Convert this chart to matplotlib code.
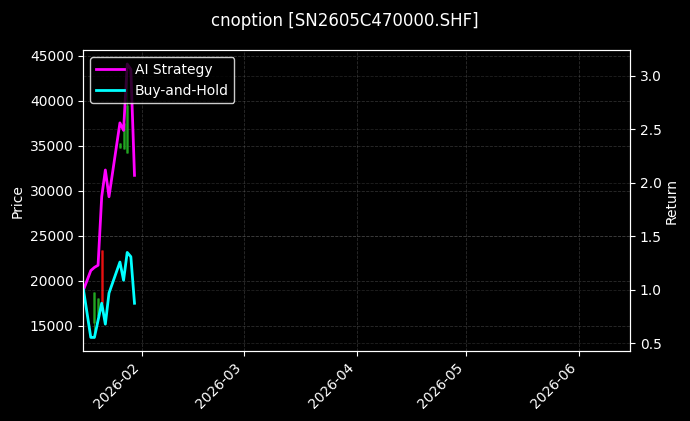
import matplotlib
matplotlib.use("Agg")
import matplotlib.pyplot as plt
import matplotlib.dates as mdates
import pandas as pd

TITLE = "cnoption [SN2605C470000.SHF]"

# strategy / buy-and-hold curves (cumulative return)
dates = pd.to_datetime(["2026-01-16", "2026-01-18", "2026-01-19", "2026-01-20",
                        "2026-01-21", "2026-01-22", "2026-01-23", "2026-01-26",
                        "2026-01-27", "2026-01-28", "2026-01-29", "2026-01-30"])
ai_ret = [1.00, 1.18, 1.21, 1.23, 1.87, 2.12, 1.87, 2.56, 2.49, 3.11, 3.06, 2.07]
bh_ret = [1.00, 0.556, 0.556, 0.715, 0.875, 0.68, 0.97, 1.26, 1.09, 1.35, 1.31, 0.875]

# visible candles (price)
c_dates = pd.to_datetime(["2026-01-19", "2026-01-20", "2026-01-21",
                          "2026-01-26", "2026-01-27", "2026-01-28"])
c_open = [15350, 16050, 23450, 34800, 34600, 34200]
c_close = [18800, 18100, 17550, 35350, 37500, 39500]
c_high = [18800, 18100, 23450, 35350, 37500, 44100]
c_low = [13700, 16050, 17550, 34800, 34600, 34200]

x_start = pd.Timestamp("2026-01-16")
x_end = pd.Timestamp("2026-06-15")

plt.style.use("dark_background")
fig = plt.figure(figsize=(6.9, 4.21), dpi=100)
ax = fig.add_axes([0.121, 0.166, 0.792, 0.715])
ax2 = ax.twinx()

for d, o, c, h, l in zip(c_dates, c_open, c_close, c_high, c_low):
    col = "#22aa22" if c >= o else "#ee1111"
    ax.vlines(d, l, h, color=col, linewidth=0.7, alpha=0.8)
    ax.vlines(d, min(o, c), max(o, c), color=col, linewidth=1.8, alpha=0.9)

ax2.plot(dates, ai_ret, color="#ff00ff", linewidth=2, label="AI Strategy")
ax2.plot(dates, bh_ret, color="#00ffff", linewidth=2, label="Buy-and-Hold")

ax.set_xlim(x_start, x_end)
ax.set_ylim(12190, 45630)
ax2.set_ylim(0.428, 3.24)
ax.set_yticks(range(15000, 45001, 5000))

ax.xaxis.set_major_locator(mdates.MonthLocator())
ax.xaxis.set_major_formatter(mdates.DateFormatter("%Y-%m"))
plt.setp(ax.get_xticklabels(), rotation=45, ha="right")

ax.grid(True, linestyle="--", color="gray", alpha=0.35, linewidth=0.6)
ax2.grid(True, linestyle="--", color="gray", alpha=0.25, linewidth=0.6)

ax.set_ylabel("Price")
ax2.set_ylabel("Return", labelpad=2)
fig.suptitle(TITLE, y=0.972, fontsize=12)

leg = ax2.legend(loc="upper left", facecolor="black", edgecolor="white", framealpha=0.8)

fig.savefig("out.png", dpi=100, facecolor="black")
